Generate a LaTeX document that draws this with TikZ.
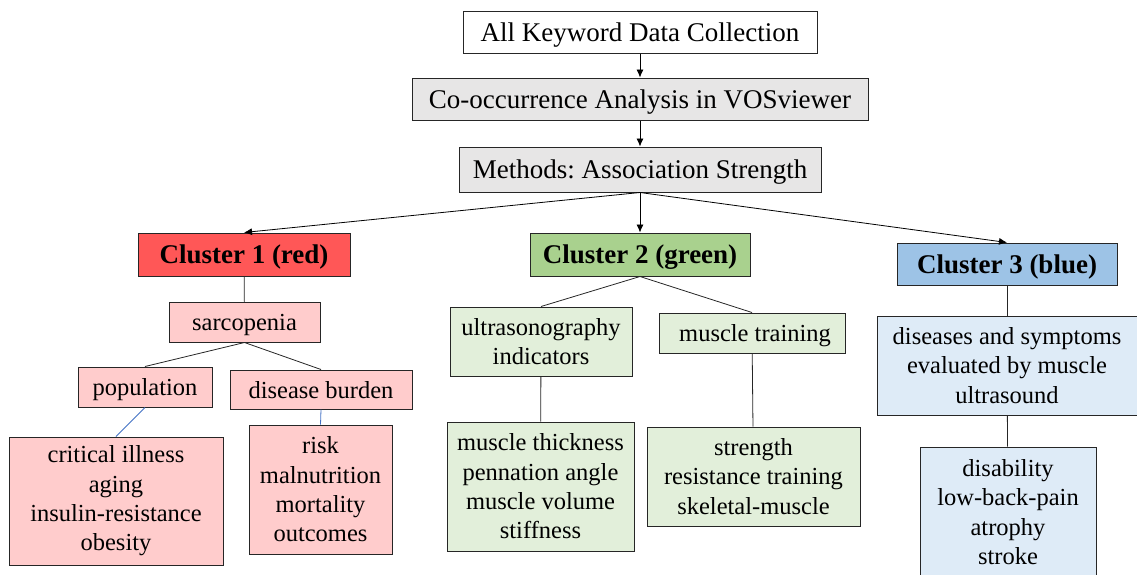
\documentclass[tikz,border=0pt]{standalone}
\usepackage{fontspec}
\setmainfont{Liberation Serif}
\usetikzlibrary{arrows.meta}

\definecolor{redfill}{HTML}{FF5757}
\definecolor{pinkfill}{HTML}{FFCCCC}
\definecolor{greenfill}{HTML}{A9D18E}
\definecolor{palegreen}{HTML}{E2EFDA}
\definecolor{bluefill}{HTML}{9DC3E6}
\definecolor{paleblue}{HTML}{DEEBF7}
\definecolor{greyfill}{HTML}{E7E6E6}
\definecolor{linkblue}{HTML}{4472C4}

\begin{document}
\frenchspacing
\begin{tikzpicture}[x=1pt, y=-1pt,
  box/.style={draw=black!85, line width=1pt, inner sep=0pt, align=center,
    font=\fontsize{27}{29.5}\selectfont, text depth=0pt},
  head/.style={box, font=\fontsize{27}{29.5}\selectfont\bfseries},
  leaf/.style={draw=black!85, line width=1pt, inner sep=0pt, align=center,
    font=\fontsize{24.5}{29.3}\selectfont},
  oneline/.style={text depth=0pt},
  flow/.style={line width=0.8pt, -{Latex[length=8pt,width=7pt]}},
  link/.style={line width=0.8pt, black!85}]
\useasboundingbox (0,0) rectangle (1137,574);
% top of the flow
\node (collect) [box, fill=white, minimum width=354, minimum height=42] at (640,32) {All Keyword Data Collection};
\node (cooccur) [box, fill=greyfill, minimum width=456, minimum height=42] at (640,99) {Co-occurrence Analysis in VOSviewer};
\node (methods) [box, fill=greyfill, minimum width=362, minimum height=45] at (640,169.5) {Methods: Association Strength};
\draw[flow] (collect) -- (cooccur);
\draw[flow] (cooccur) -- (methods);
% cluster 1
\node (clusterone) [head, fill=redfill, minimum width=212, minimum height=43] at (244,254.5) {Cluster 1 (red)};
\node (sarcopenia) [leaf, oneline, fill=pinkfill, minimum width=151, minimum height=40] at (244.5,322) {sarcopenia};
\node (population) [leaf, oneline, fill=pinkfill, minimum width=134, minimum height=40] at (145,387) {population};
\node (burden) [leaf, oneline, fill=pinkfill, minimum width=182, minimum height=39] at (321,389.5) {disease burden};
\node (critical) [leaf, fill=pinkfill, minimum width=214, minimum height=128] at (116,501) {critical illness\\aging\\insulin-resistance\\obesity};
\node (risk) [leaf, fill=pinkfill, minimum width=143, minimum height=129] at (320.5,489.5) {risk\\malnutrition\\mortality\\outcomes};
% cluster 2
\node (clustertwo) [head, fill=greenfill, minimum width=220, minimum height=43] at (640,254.5) {Cluster 2 (green)};
\node (ultrasono) [leaf, fill=palegreen, minimum width=182, minimum height=69] at (541,341.5) {ultrasonography\\indicators};
\node (training) [leaf, oneline, fill=palegreen, minimum width=186, minimum height=40] at (752,333) {~muscle training};
\node (thickness) [leaf, fill=palegreen, minimum width=187, minimum height=129] at (540.5,486.5) {muscle thickness\\pennation angle\\muscle volume\\stiffness};
\node (strength) [leaf, fill=palegreen, minimum width=213, minimum height=99] at (753.5,476.5) {strength\\resistance training\\skeletal-muscle};
% cluster 3
\node (clusterthree) [head, fill=bluefill, minimum width=220, minimum height=42] at (1007,264) {Cluster 3 (blue)};
\node (diseases) [leaf, fill=paleblue, minimum width=260, minimum height=99] at (1007,365.5) {diseases and symptoms\\evaluated by muscle\\ultrasound};
\node (disability) [leaf, fill=paleblue, minimum width=176, minimum height=130] at (1008,512) {disability\\low-back-pain\\atrophy\\stroke};
% arrows to the clusters
\draw[flow] (methods.south) -- (clusterone.north);
\draw[flow] (methods.south) -- (clustertwo.north);
\draw[flow] (methods.south) -- (clusterthree.north);
% links inside the clusters
\draw[link] (clusterone) -- (sarcopenia);
\draw[link] (sarcopenia.south) -- (population.north);
\draw[link] (sarcopenia.south) -- (burden.north);
\draw[link, linkblue] (population.south) -- (critical.north);
\draw[link, linkblue] (burden.south) -- (risk.north);
\draw[link] (clustertwo.south) -- (ultrasono.north);
\draw[link] (clustertwo.south) -- (training.north);
\draw[link] (ultrasono) -- (thickness);
\draw[link] (training) -- (strength);
\draw[link] (clusterthree) -- (diseases);
\draw[link] (diseases) -- (disability);
\end{tikzpicture}
\end{document}
